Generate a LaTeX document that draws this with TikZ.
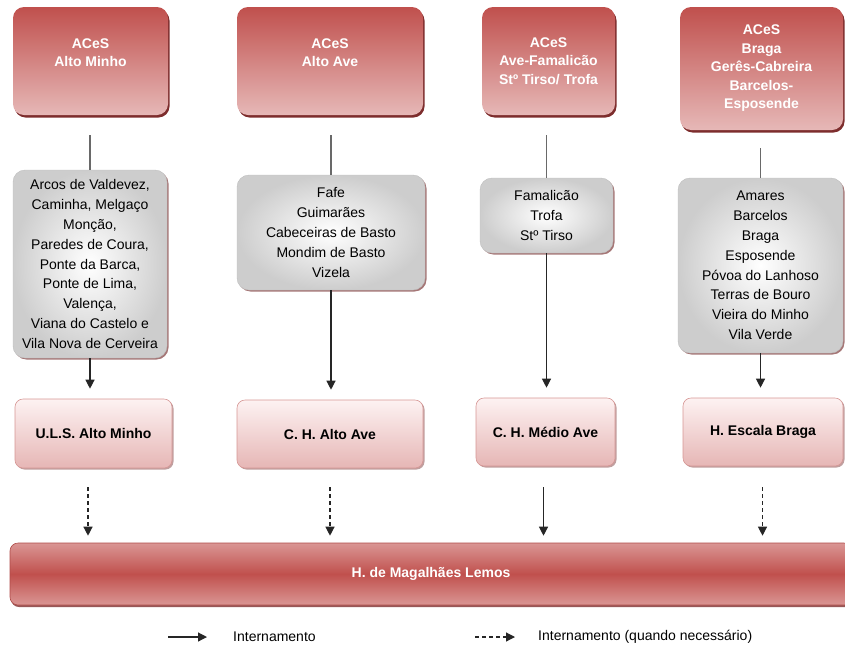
\documentclass[tikz,border=0pt]{standalone}
\usepackage{fontspec}
\setmainfont{Liberation Sans}
\usetikzlibrary{arrows.meta,shadows,calc}
\definecolor{redtop}{RGB}{192,80,77}
\definecolor{redbot}{RGB}{230,184,183}
\definecolor{redshadow}{RGB}{125,45,45}
\definecolor{pinktop}{RGB}{253,242,242}
\definecolor{pinkbot}{RGB}{230,182,181}
\definecolor{pinkline}{RGB}{214,150,148}
\definecolor{greyout}{RGB}{205,205,205}
\definecolor{greyline}{RGB}{190,190,190}
\definecolor{barlight}{RGB}{218,150,148}
\definecolor{barline}{RGB}{175,75,72}
\definecolor{dotshadow}{RGB}{150,95,95}
\definecolor{linkgrey}{RGB}{105,105,105}
\begin{document}
\begin{tikzpicture}[x=1pt,y=-1pt,
  aces/.style={rounded corners=11pt, top color=redtop, bottom color=redbot, draw=none,
    drop shadow={shadow xshift=1.5pt, shadow yshift=-2.5pt, fill=redshadow, opacity=1},
    text=white, font=\bfseries\fontsize{14}{18.5}\selectfont, align=center, inner sep=0pt},
  greybox/.style={rounded corners=12pt, inner color=white, outer color=greyout, draw=greyline,
    line width=0.4pt, drop shadow={shadow xshift=1.5pt, shadow yshift=-1.5pt, fill=dotshadow, opacity=0.85},
    align=center, font=\fontsize{14}{19.8}\selectfont, inner sep=0pt},
  hosp/.style={rounded corners=8pt, top color=pinktop, bottom color=pinkbot, draw=pinkline, line width=0.6pt,
    drop shadow={shadow xshift=1.5pt, shadow yshift=-1.5pt, fill=dotshadow, opacity=0.6},
    font=\bfseries\fontsize{14}{17}\selectfont, inner sep=0pt},
  barbox/.style={rounded corners=8pt, top color=barlight, bottom color=barlight, middle color=redtop,
    draw=barline, line width=0.6pt,
    drop shadow={shadow xshift=1pt, shadow yshift=-2pt, fill=redshadow, opacity=0.8},
    text=white, font=\bfseries\fontsize{14}{17}\selectfont, inner sep=0pt},
  link/.style={line width=1.1pt, draw=linkgrey},
  arr/.style={line width=1.2pt, draw=black!85, -{Triangle[width=9pt,length=9pt]}},
  dasharr/.style={arr, dash pattern=on 4pt off 3pt},
  legtext/.style={anchor=west, font=\fontsize{14}{17}\selectfont, inner sep=0pt}
]
\useasboundingbox (0,0) rectangle (845,651);

% top ACeS boxes
\node[aces, minimum width=155pt, minimum height=108pt] (t1) at (90.5,61) {ACeS\\Alto Minho\\[-7pt]\strut};
\node[aces, minimum width=186pt, minimum height=108pt] (t2) at (330,61) {ACeS\\Alto Ave\\[-7pt]\strut};
\node[aces, minimum width=133pt, minimum height=108pt] (t3) at (548.5,61) {ACeS\\Ave-Famalicão\\Stº Tirso/ Trofa};
\node[aces, minimum width=163pt, minimum height=123pt] (t4) at (761.5,68.5) {ACeS\\Braga\\Gerês-Cabreira\\Barcelos-\\Esposende};

% grey municipality boxes
\node[greybox, minimum width=154pt, minimum height=188pt] (g1) at (90,264)
  {Arcos de Valdevez,\\Caminha, Melgaço\\Monção,\\Paredes de Coura,\\Ponte da Barca,\\Ponte de Lima,\\Valença,\\Viana do Castelo e\\Vila Nova de Cerveira};
\node[greybox, minimum width=188pt, minimum height=115pt] (g2) at (331,232.5)
  {Fafe\\Guimarães\\Cabeceiras de Basto\\Mondim de Basto\\Vizela};
\node[greybox, minimum width=133pt, minimum height=75pt] (g3) at (546.5,215.5)
  {Famalicão\\Trofa\\Stº Tirso};
\node[greybox, minimum width=165pt, minimum height=175pt] (g4) at (760.5,265.5)
  {Amares\\Barcelos\\Braga\\Esposende\\Póvoa do Lanhoso\\Terras de Bouro\\Vieira do Minho\\Vila Verde};

% hospital boxes
\node[hosp, minimum width=157pt, minimum height=69pt] (b1) at (93.5,433.5) {U.L.S. Alto Minho};
\node[hosp, minimum width=186pt, minimum height=68pt] (b2) at (330,434) {C. H. Alto Ave};
\node[hosp, minimum width=139pt, minimum height=68pt] (b3) at (545.5,432) {C. H. Médio Ave};
\node[hosp, minimum width=160pt, minimum height=68pt] (b4) at (763,432) {H. Escala Braga};

% bottom bar
\node[barbox, minimum width=842pt, minimum height=62pt] (bar) at (431,574) {H. de Magalhães Lemos};

% connectors top -> grey
\draw[link] ($(g1.north |- t1.south)+(0,20)$) -- (g1.north);
\draw[link] ($(g2.north |- t2.south)+(0,20)$) -- (g2.north);
\draw[link] ($(g3.north |- t3.south)+(0,20)$) -- (g3.north);
\draw[link] ($(g4.north |- t4.south)+(0,18)$) -- (g4.north);

% grey -> hospital
\draw[arr] (g1.south) -- ($(g1.south |- b1.north)+(0,-10)$);
\draw[arr] (g2.south) -- ($(g2.south |- b2.north)+(0,-10)$);
\draw[arr] (g3.south) -- ($(g3.south |- b3.north)+(0,-10)$);
\draw[arr] (g4.south) -- ($(g4.south |- b4.north)+(0,-10)$);

% hospital -> bar
\draw[dasharr] ($(g1.south |- b1.south)+(-2,19)$) -- ($(g1.south |- bar.north)+(-2,-7)$);
\draw[dasharr] ($(g2.south |- b2.south)+(-1,19)$) -- ($(g2.south |- bar.north)+(-1,-7)$);
\draw[arr] ($(g3.south |- b3.south)+(-3,21)$) -- ($(g3.south |- bar.north)+(-3,-7)$);
\draw[dasharr] ($(g4.south |- b4.south)+(2,21)$) -- ($(g4.south |- bar.north)+(2,-7)$);

% legend
\coordinate (l1a) at (168,637);
\coordinate (l1b) at (207,637);
\draw[arr] (l1a) -- (l1b);
\node[legtext] (l1t) at (233,637) {Internamento};
\coordinate (l2a) at (475,637);
\coordinate (l2b) at (515,637);
\draw[dasharr] (l2a) -- (l2b);
\node[legtext] (l2t) at (538,637) {Internamento (quando necessário)};
\end{tikzpicture}
\end{document}
